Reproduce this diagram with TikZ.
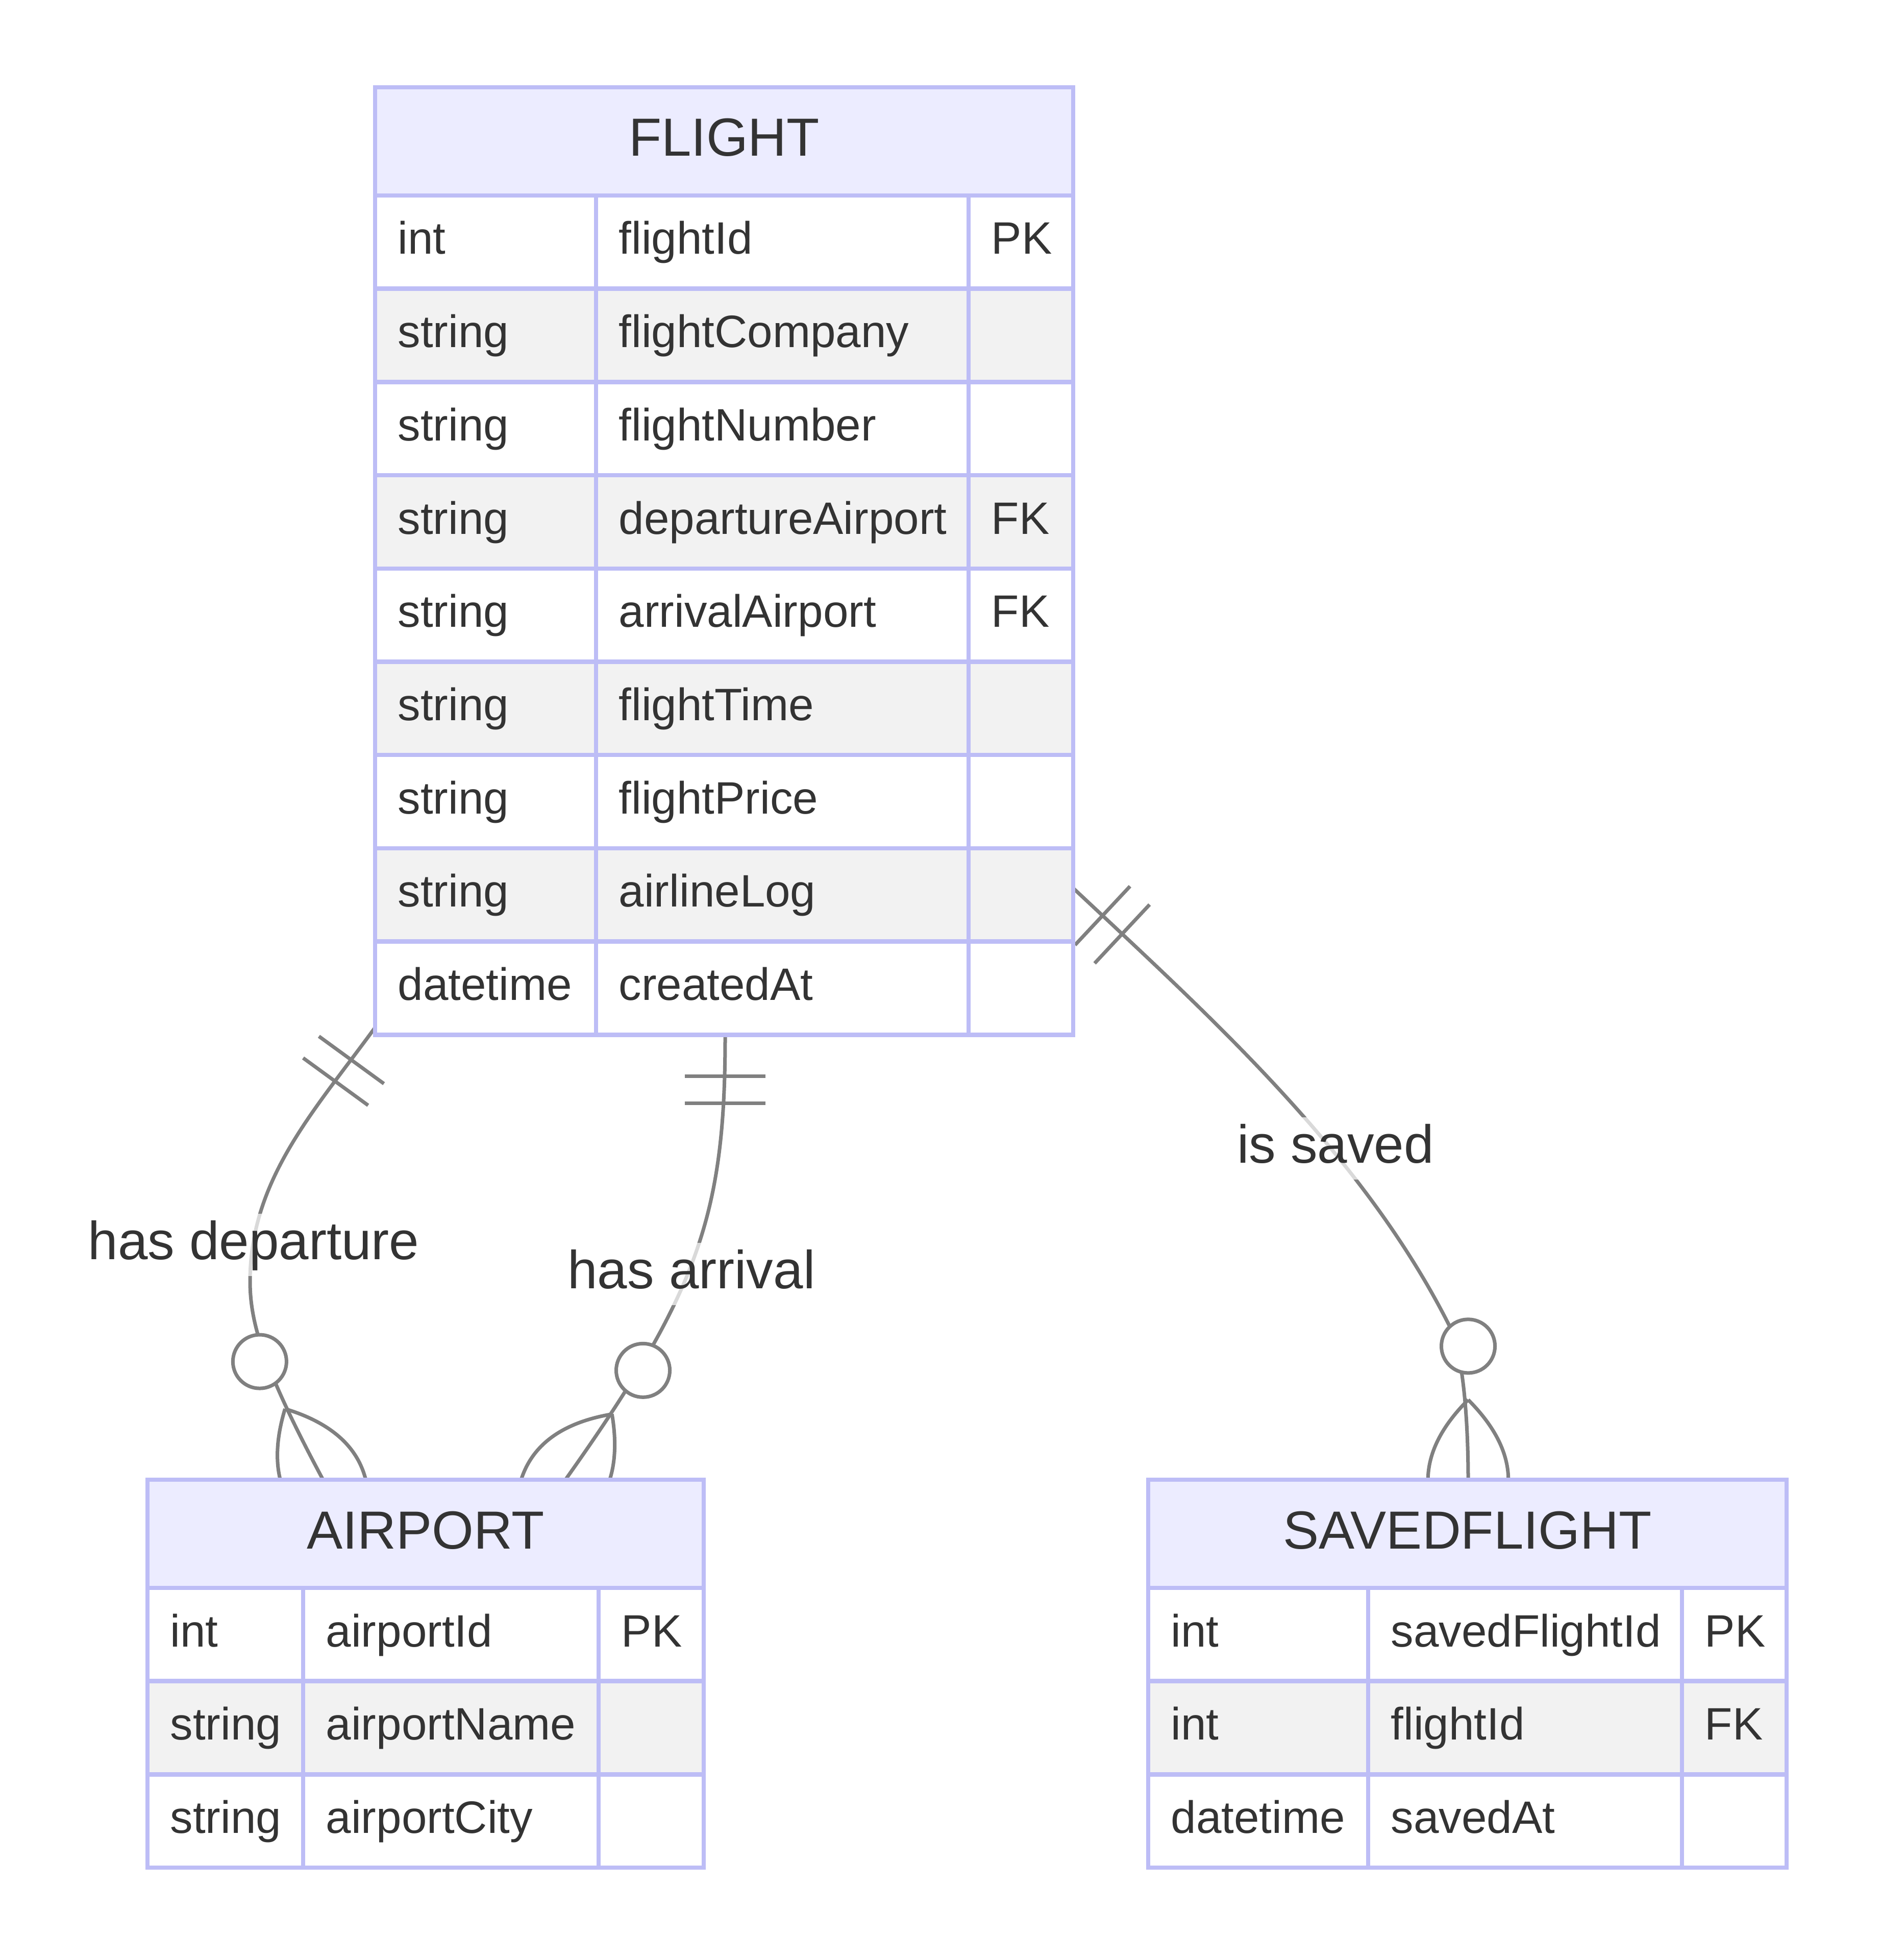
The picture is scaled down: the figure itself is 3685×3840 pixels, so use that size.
\documentclass[tikz,border=0pt]{standalone}
\usepackage{fontspec}
\setmainfont{Liberation Sans}
\usetikzlibrary{calc}
\definecolor{erborder}{RGB}{189,189,246}
\definecolor{erhead}{RGB}{236,236,255}
\definecolor{eralt}{RGB}{242,242,242}
\definecolor{ertext}{RGB}{51,51,51}
\definecolor{erline}{RGB}{128,128,128}
\tikzset{
  cellbox/.style={draw=erborder, line width=0.085cm},
  headtext/.style={text=ertext, font=\fontsize{29.9pt}{36pt}\selectfont, inner sep=0pt, anchor=base},
  attrtext/.style={text=ertext, font=\fontsize{25.3pt}{30pt}\selectfont, inner sep=0pt, anchor=base west},
  rel/.style={draw=erline, line width=0.07cm},
  relcircle/.style={circle, draw=erline, fill=white, line width=0.07cm, minimum size=1.05cm, inner sep=0pt},
  lbl/.style={fill=white, fill opacity=0.7, text opacity=1, text=ertext,
    font=\fontsize{29.9pt}{36pt}\selectfont, inner sep=0pt,
    text height=0.89cm, text depth=0.33cm, anchor=base},
}
% #1 id, #2 title, #3-#6 column x, #7 top, #8 rows
\newcommand\ertable[8]{%
  \path[cellbox, fill=erhead] (#3,#7) rectangle (#6,#7+212);
  \node[headtext] (#1) at ({(#3+#6)/2},#7+135) {#2};
  \foreach \ty/\nm/\ky [count=\i] in {#8} {%
    \pgfmathsetmacro\rt{#7+212+(\i-1)*182.7}%
    \pgfmathsetmacro\rb{\rt+182.7}%
    \ifodd\i\relax \def\rowfill{white}\else \def\rowfill{eralt}\fi
    \path[cellbox, fill=\rowfill] (#3,\rt) rectangle (#4,\rb);
    \path[cellbox, fill=\rowfill] (#4,\rt) rectangle (#5,\rb);
    \path[cellbox, fill=\rowfill] (#5,\rt) rectangle (#6,\rb);
    \node[attrtext] (#1-type-\i) at (#3+44,\rt+115) {\ty};
    \node[attrtext] (#1-name-\i) at (#4+44,\rt+115) {\nm};
    \node[attrtext] (#1-key-\i) at (#5+44,\rt+115) {\ky};
  }%
}
% exactly-one marker: #1 prefix, #2 start, #3 point on start tangent
\newcommand\onlyone[3]{%
  \coordinate (#1b1) at ($(#2)!0.7875cm!(#3)$);
  \coordinate (#1b2) at ($(#2)!1.3125cm!(#3)$);
  \draw[rel] ($(#1b1)!0.7875cm!90:(#2)$) -- ($(#1b1)!0.7875cm!-90:(#2)$);
  \draw[rel] ($(#1b2)!0.7875cm!90:(#2)$) -- ($(#1b2)!0.7875cm!-90:(#2)$);
}
% zero-or-more marker: #1 prefix, #2 end, #3 point on end tangent
\newcommand\zeromany[3]{%
  \coordinate (#1a) at ($(#2)!1.575cm!(#3)$);
  \coordinate (#1f) at ($(#2)!-1.575cm!(#3)$);
  \coordinate (#1q) at ($(#2)!1.575cm!90:(#3)$);
  \coordinate (#1r) at ($(#2)!1.575cm!-90:(#3)$);
  \node[relcircle] (#1o) at ($(#2)!2.625cm!(#3)$) {};
  \draw[rel] (#1a) .. controls ($(#1a)!0.6667!(#1q)$) and ($(#1f)!0.6667!(#1q)$) .. (#1f);
  \draw[rel] (#1a) .. controls ($(#1a)!0.6667!(#1r)$) and ($(#1f)!0.6667!(#1r)$) .. (#1f);
}
\begin{document}
\begin{tikzpicture}[x=0.01cm, y=-0.01cm]
\fill[white] (0,0) rectangle (3685,3840);
\useasboundingbox (0,0) rectangle (3685,3840);

% connector 1: has departure
\coordinate (dep-s) at (735,2013);
\coordinate (dep-c1) at (617,2175);
\coordinate (dep-c2) at (490,2310);
\coordinate (dep-m) at (490,2510);
\coordinate (dep-c3) at (490,2590);
\coordinate (dep-c4) at (514.5,2678);
\coordinate (dep-e) at (633,2899);
\draw[rel] (dep-s) .. controls (dep-c1) and (dep-c2) .. (dep-m)
  .. controls (dep-c3) and (dep-c4) .. (dep-e);
\onlyone{dep-}{dep-s}{dep-c1}
\zeromany{depz-}{dep-e}{dep-c4}

% connector 2: has arrival
\coordinate (arr-s) at (1421,2030);
\coordinate (arr-c1) at (1421,2380);
\coordinate (arr-c2) at (1368.6,2531.8);
\coordinate (arr-e) at (1108,2899);
\draw[rel] (arr-s) .. controls (arr-c1) and (arr-c2) .. (arr-e);
\onlyone{arr-}{arr-s}{arr-c1}
\zeromany{arrz-}{arr-e}{arr-c2}

% connector 3: is saved
\coordinate (sav-s) at (2103,1740);
\coordinate (sav-c1) at (2378,1997.5);
\coordinate (sav-c2) at (2670,2260.7);
\coordinate (sav-m) at (2840,2597);
\coordinate (sav-c3) at (2867,2650.5);
\coordinate (sav-c4) at (2877,2780);
\coordinate (sav-e) at (2877,2900);
\draw[rel] (sav-s) .. controls (sav-c1) and (sav-c2) .. (sav-m)
  .. controls (sav-c3) and (sav-c4) .. (sav-e);
\onlyone{sav-}{sav-s}{sav-c1}
\zeromany{savz-}{sav-e}{sav-c4}

% labels
\node[lbl] (lbl-dep) at (497,2467) {has departure};
\node[lbl] (lbl-arr) at (1355,2524) {has arrival};
\node[lbl] (lbl-sav) at (2617,2278) {is saved};

% tables
\ertable{flight}{FLIGHT}{735}{1168}{1898}{2103}{171}{%
  int/flightId/PK, string/flightCompany/{}, string/flightNumber/{},
  string/departureAirport/FK, string/arrivalAirport/FK, string/flightTime/{},
  string/flightPrice/{}, string/airlineLog/{}, datetime/createdAt/{}}
\ertable{airport}{AIRPORT}{289}{594}{1173}{1379}{2899}{%
  int/airportId/PK, string/airportName/{}, string/airportCity/{}}
\ertable{savedflight}{SAVEDFLIGHT}{2250}{2681}{3296}{3501}{2899}{%
  int/savedFlightId/PK, int/flightId/FK, datetime/savedAt/{}}
\end{tikzpicture}
\end{document}
